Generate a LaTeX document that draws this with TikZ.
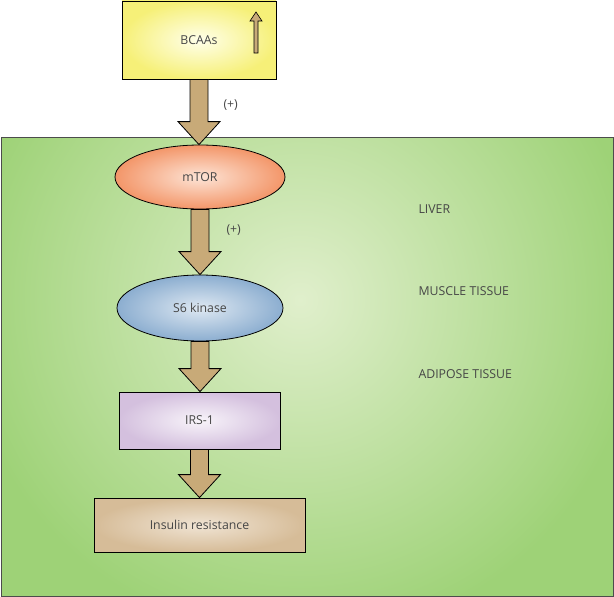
\documentclass[tikz,border=0pt]{standalone}
\usepackage{fontspec}
\setmainfont{Open Sans}
\usetikzlibrary{positioning, calc, shapes.geometric}

\definecolor{leafgreen}{RGB}{158,210,119}
\definecolor{leaflight}{RGB}{224,239,204}
\definecolor{arrowtan}{RGB}{200,170,120}
\definecolor{inktext}{RGB}{70,70,70}

\tikzset{
  stage/.style={draw=black, line width=0.8pt, inner sep=0pt, text=inktext,
    font=\fontsize{12.3}{14}\selectfont},
  fatarrow/.style={draw=black, line width=0.8pt, fill=arrowtan},
  tissue/.style={anchor=west, text=inktext, font=\fontsize{12.3}{14}\selectfont},
}

% fat down arrow between two stacked nodes
\newcommand{\stagearrow}[2]{%
  \draw[fatarrow] let \p1=(#1.south), \p2=(#2.north) in
    (\x1-9pt,\y1) -- (\x1+9pt,\y1) -- (\x1+9pt,\y2+23pt) -- (\x1+21pt,\y2+23pt)
    -- (\x1,\y2) -- (\x1-21pt,\y2+23pt) -- (\x1-9pt,\y2+23pt) -- cycle;}

\begin{document}
\begin{tikzpicture}[x=1pt,y=-1pt]
  \useasboundingbox (0,0) rectangle (614,597);
  % tissue background, light spot a bit above the middle
  \fill[leafgreen] (1,137) rectangle (613,596);
  \begin{scope}
    \clip (1,137) rectangle (613,596);
    \shade[inner color=leaflight, outer color=leafgreen] (300,300) circle (340);
  \end{scope}
  \draw[black!70, line width=0.6pt] (1,137) rectangle (613,596);

  \node[stage, minimum width=154pt, minimum height=78pt,
    inner color=yellow!8, outer color={rgb,255:red,246;green,240;blue,120}] (bcaa) at (199,40) {BCAAs};
  \filldraw[fatarrow, line width=0.6pt] (254,53) -- (258,53) -- (258,21) -- (262,21) -- (256,12)
    -- (250,21) -- (254,21) -- cycle;

  \node[stage, ellipse, minimum width=170pt, minimum height=64pt,
    inner color={rgb,255:red,253;green,228;blue,214}, outer color={rgb,255:red,243;green,150;blue,105}] (mtor) at (200,177) {mTOR};
  \node[stage, ellipse, minimum width=166pt, minimum height=66pt,
    inner color={rgb,255:red,222;green,232;blue,242}, outer color={rgb,255:red,140;green,174;blue,208}] (s6) at (200,308) {S6 kinase};
  \node[stage, minimum width=161pt, minimum height=57pt,
    inner color={rgb,255:red,248;green,244;blue,250}, outer color={rgb,255:red,212;green,192;blue,222}] (irs) at (199.5,420.5) {IRS-1};
  \node[stage, minimum width=211pt, minimum height=54pt,
    inner color={rgb,255:red,240;green,228;blue,212}, outer color={rgb,255:red,214;green,188;blue,152}] (ins) at (199.5,525) {Insulin resistance};

  \stagearrow{bcaa}{mtor}
  \stagearrow{mtor}{s6}
  \stagearrow{s6}{irs}
  \stagearrow{irs}{ins}

  \node[tissue] (plusa) at (220,105) {(+)};
  \node[tissue] (plusb) at (223,230) {(+)};

  \node[tissue] (liver) at (415,209) {LIVER};
  \node[tissue] (muscle) at (415,291) {MUSCLE TISSUE};
  \node[tissue] (adipose) at (415,374) {ADIPOSE TISSUE};
\end{tikzpicture}
\end{document}
